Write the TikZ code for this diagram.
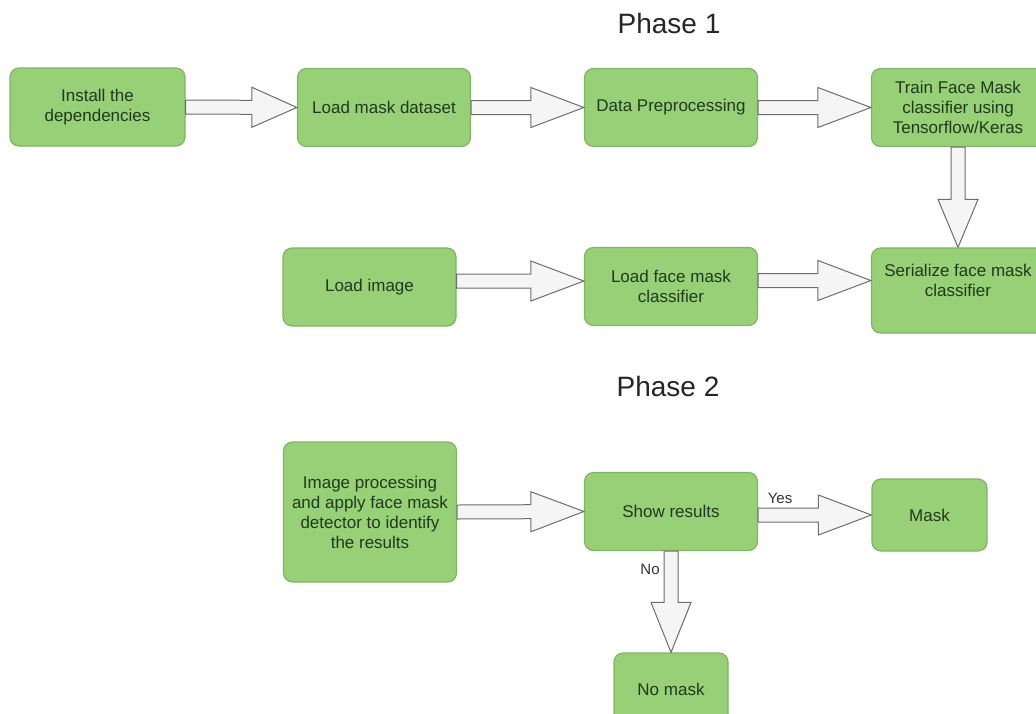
\documentclass[tikz,border=0pt]{standalone}
\usepackage{fontspec}
\setmainfont{Liberation Sans}
\usetikzlibrary{calc}

\definecolor{boxfill}{HTML}{97D077}
\definecolor{boxline}{HTML}{82B366}
\definecolor{boxtext}{HTML}{203A1C}
\definecolor{arrowfill}{HTML}{F5F5F5}
\definecolor{arrowline}{HTML}{6E6E6E}

\tikzset{
  stepbox/.style={draw=boxline, fill=boxfill, rounded corners=9pt, line width=1.2pt,
    text=boxtext, align=center, inner sep=2pt, font=\fontsize{17}{20}\selectfont,
    minimum width=173pt, minimum height=78pt},
  phase/.style={font=\fontsize{28}{32}\selectfont, text=black!85},
  choice/.style={font=\fontsize{15}{18}\selectfont, text=black!80},
  head len/.store in=\headlen, head len=53pt,
  fatarrow/.style={draw=arrowline, fill=arrowfill, line width=1pt, line join=miter,
    to path={
      ($(\tikztostart)!7pt!90:(\tikztotarget)$)
      -- ($(\tikztotarget)!\headlen!(\tikztostart)!7pt!90:(\tikztotarget)$)
      -- ($(\tikztotarget)!\headlen!(\tikztostart)!20pt!90:(\tikztotarget)$)
      -- (\tikztotarget)
      -- ($(\tikztotarget)!\headlen!(\tikztostart)!20pt!-90:(\tikztotarget)$)
      -- ($(\tikztotarget)!\headlen!(\tikztostart)!7pt!-90:(\tikztotarget)$)
      -- ($(\tikztostart)!7pt!-90:(\tikztotarget)$)
      -- cycle}}
}

\begin{document}
\begin{tikzpicture}[x=1pt, y=-1pt]
  \clip (0,0) rectangle (1036,713);
  \fill[white] (0,0) rectangle (1036,713);

  % Phase 1
  \node[phase] (ph1) at (669,23) {Phase 1};
  \node[stepbox, minimum width=175pt] (inst) at (97.5,107) {Install the\\dependencies};
  \node[stepbox] (loadmask) at (384,107.5) {Load mask dataset};
  \node[stepbox] (prep) at (671,107.5) {Data Preprocessing};
  \node[stepbox] (train) at (958,107.5) {Train Face Mask\\classifier using\\Tensorflow/Keras};
  \node[stepbox] (loadimg) at (369.5,287) {Load image};
  \node[stepbox] (loadfm) at (671,286.5) {Load face mask\\classifier};
  \node[stepbox, minimum height=85pt, text depth=20pt] (serial) at (958,290.5) {Serialize face mask\\classifier};

  \draw[fatarrow, head len=45pt] (inst.east) to (loadmask.west);
  \draw[fatarrow] (loadmask.east) to (prep.west);
  \draw[fatarrow] (prep.east) to (train.west);
  \draw[fatarrow, head len=48pt] (train.south) to (serial.north);
  \draw[fatarrow] ([yshift=6pt]loadimg.east) to ([yshift=6pt]loadimg.east -| loadfm.west);
  \draw[fatarrow] ([yshift=6pt]loadfm.east) to ([yshift=6pt]loadfm.east -| serial.west);

  % Phase 2
  \node[phase] (ph2) at (668,386) {Phase 2};
  \node[stepbox, minimum height=140pt] (imgproc) at (370,512) {Image processing\\and apply face mask\\detector to identify\\the results};
  \node[stepbox] (show) at (671,511.5) {Show results};
  \node[stepbox, minimum width=115pt, minimum height=72pt] (mask) at (929.5,515) {Mask};
  \node[stepbox, minimum width=114pt, minimum height=72pt] (nomask) at (671,689) {No mask};

  \draw[fatarrow] (imgproc.east) to (show.west);
  \draw[fatarrow] (show.east |- mask.west) to (mask.west);
  \draw[fatarrow, head len=50pt] (show.south) to (nomask.north);
  \node[choice] (yes) at (780,498) {Yes};
  \node[choice] (no) at (650,569) {No};
\end{tikzpicture}
\end{document}
